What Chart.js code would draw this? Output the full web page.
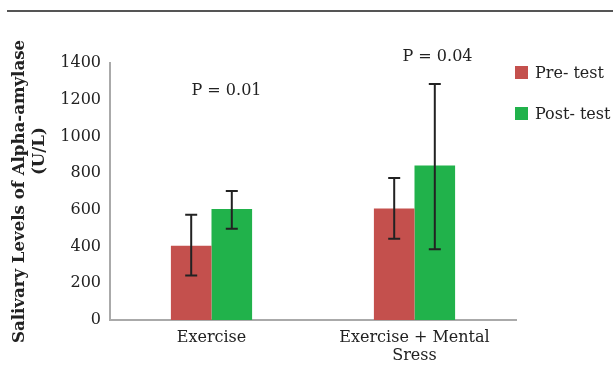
<!DOCTYPE html>
<html>
<head>
<meta charset="utf-8">
<script src="https://cdn.jsdelivr.net/npm/chart.js@4"></script>
<style>
  body { margin: 0; background: #fff; }
  #wrap { position: relative; width: 613px; height: 365px; font-family: "DejaVu Serif"; }
  #topline { position: absolute; left: 7px; right: 0; top: 10px; border-top: 2px solid #555; }
  canvas { position: absolute; left: 0; top: 0; }
  #legend { position: absolute; left: 515px; top: 62px; }
  .item { display: flex; align-items: center; height: 20px; margin-bottom: 21px; font-size: 16px; color: #222; }
  .box { width: 13px; height: 13px; margin-right: 7px; }
</style>
</head>
<body>
<div id="wrap">
  <div id="topline"></div>
  <canvas id="chart" width="613" height="365"></canvas>
  <div id="legend"></div>
</div>
<script>
const categories = ['Exercise', ['Exercise + Mental', 'Sress']];
const preTest = [405, 607];
const postTest = [605, 842];
const preLow = [243, 443];
const preHigh = [573, 773];
const postLow = [497, 385];
const postHigh = [703, 1286];
const pLabels = ['P = 0.01', 'P = 0.04'];
const pLevels = [1250, 1432];
const yTicks = [0, 200, 400, 600, 800, 1000, 1200, 1400];

const serif = 'DejaVu Serif';

// error bars drawn on top of each bar
const errorBars = {
  id: 'errorBars',
  afterDatasetsDraw(chart) {
    const ctx = chart.ctx;
    const y = chart.scales.y;
    const lows = [preLow, postLow];
    const highs = [preHigh, postHigh];
    ctx.save();
    ctx.strokeStyle = '#222';
    ctx.lineWidth = 2;
    chart.data.datasets.forEach((ds, di) => {
      chart.getDatasetMeta(di).data.forEach((bar, i) => {
        const top = y.getPixelForValue(highs[di][i]);
        const bot = y.getPixelForValue(lows[di][i]);
        ctx.beginPath();
        ctx.moveTo(bar.x, top); ctx.lineTo(bar.x, bot);
        ctx.moveTo(bar.x - 6, top); ctx.lineTo(bar.x + 6, top);
        ctx.moveTo(bar.x - 6, bot); ctx.lineTo(bar.x + 6, bot);
        ctx.stroke();
      });
    });
    ctx.restore();
  }
};

// p-value annotations
const pValues = {
  id: 'pValues',
  afterDraw(chart) {
    const ctx = chart.ctx;
    const x = chart.scales.x, y = chart.scales.y;
    const offsets = [15, 23];
    ctx.save();
    ctx.fillStyle = '#222';
    ctx.font = '16px "' + serif + '"';
    ctx.textAlign = 'center';
    ctx.textBaseline = 'middle';
    pLabels.forEach((t, i) => {
      ctx.fillText(t, x.getPixelForValue(i) + offsets[i], y.getPixelForValue(pLevels[i]));
    });
    ctx.restore();
  }
};

const chart = new Chart(document.getElementById('chart'), {
  type: 'bar',
  data: {
    labels: categories,
    datasets: [
      { label: 'Pre- test', data: preTest, backgroundColor: '#c4504d' },
      { label: 'Post- test', data: postTest, backgroundColor: '#21b24b' }
    ]
  },
  options: {
    responsive: false,
    animation: false,
    layout: { padding: { top: 63, right: 97, left: 4, bottom: 0 } },
    datasets: { bar: { categoryPercentage: 0.4, barPercentage: 1 } },
    plugins: {
      tooltip: { enabled: false },
      legend: { display: false }
    },
    scales: {
      x: {
        afterFit: s => { s.height = 45; },
        grid: { display: false, drawTicks: false },
        border: { color: '#aaa', width: 2 },
        ticks: { color: '#222', padding: 9, font: { family: serif, size: 16, lineHeight: 1.1 } }
      },
      y: {
        min: 0, max: 1400,
        afterBuildTicks: s => { s.ticks = yTicks.map(v => ({ value: v })); },
        afterFit: s => { s.width = 106; },
        grid: { display: false, drawTicks: true, tickLength: 7, tickColor: '#aaa', tickWidth: 2 },
        border: { color: '#aaa', width: 2 },
        ticks: { color: '#222', padding: 2, font: { family: serif, size: 16 }, callback: v => String(v) },
        title: {
          display: true,
          // leading spaces push the second line up, as in the original
          text: ['Salivary Levels of Alpha-amylase', '              (U/L)'],
          color: '#222',
          padding: { top: 5, bottom: 0 },
          font: { family: serif, size: 16.6, weight: 'bold', lineHeight: 1.25 }
        }
      }
    }
  },
  plugins: [errorBars, pValues]
});

// html legend built from the datasets
const legend = document.getElementById('legend');
chart.data.datasets.forEach(ds => {
  const item = document.createElement('div');
  item.className = 'item';
  const box = document.createElement('span');
  box.className = 'box';
  box.style.background = ds.backgroundColor;
  item.appendChild(box);
  item.appendChild(document.createTextNode(ds.label));
  legend.appendChild(item);
});
</script>
</body>
</html>
